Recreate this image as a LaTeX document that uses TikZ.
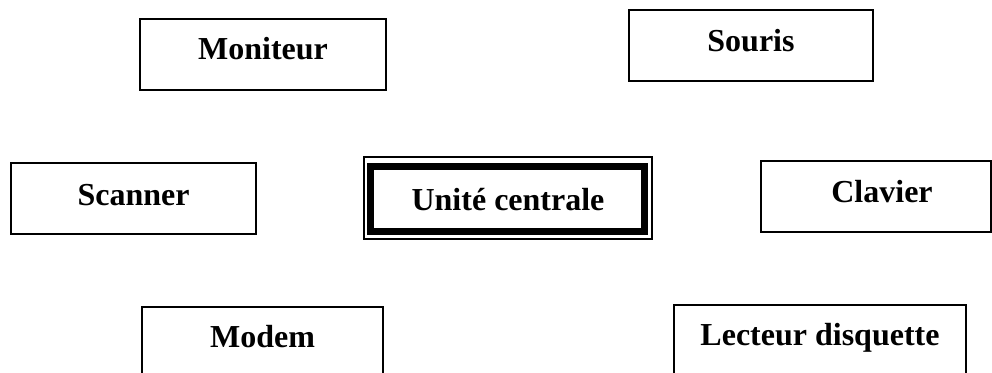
\documentclass[tikz,border=0pt]{standalone}
\usepackage{fontspec}
\setmainfont{Liberation Serif}
\begin{document}
\begin{tikzpicture}[x=1pt,y=-1pt,
  box/.style={draw=black, line width=2pt, inner sep=0pt, text depth=0pt,
    font=\fontsize{32}{38}\selectfont\bfseries, minimum height=71pt},
  thickframe/.style={draw=black, line width=7pt}]
\clip (0,0) rectangle (992,372);
\fill[white] (0,0) rectangle (992,372);
\node[box, minimum width=246pt, text height=9pt] (moni) at (263,54.5) {Moniteur};
\node[box, minimum width=244pt, text height=11pt] (souris) at (751,45.5) {Souris};
\node[box, minimum width=245pt, text height=13pt] (scan) at (133.5,198.5) {Scanner};
\node[box, minimum width=230pt, text height=11pt] (clav) at (876,196.5) {\hspace*{12pt}Clavier};
\node[box, minimum width=288pt, minimum height=82pt, text height=24pt, line width=1.6pt] (uc) at (508,198) {Unité centrale};
\draw[thickframe] ([shift={(7.5,10.5)}]uc.north west) rectangle ([shift={(-8.5,-8)}]uc.south east);
\node[box, minimum width=241pt, minimum height=80pt, text height=0pt] (modem) at (262.5,347) {Modem};
\node[box, minimum width=292pt, minimum height=80pt, text height=0pt] (lect) at (820,345) {Lecteur disquette};
\end{tikzpicture}
\end{document}
